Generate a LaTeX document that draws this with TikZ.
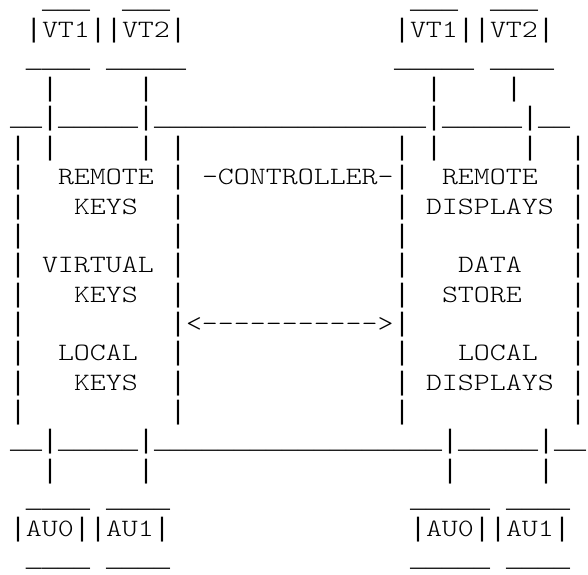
\documentclass[tikz,border=0pt]{standalone}
\usepackage{fontspec}
\setmonofont{Latin Modern Mono Light}[FakeStretch=1.22]
\newfontfamily\railfont{Liberation Mono}

\tikzset{
  cell/.style={anchor=base west, inner sep=0pt, outer sep=0pt},
  rail/.style={cell, font=\railfont\fontsize{20pt}{22pt}\selectfont},
  label/.style={cell, font=\ttfamily\fontsize{18.7pt}{22pt}\selectfont},
}

\begin{document}
\catcode`\_=12
\begin{tikzpicture}[x=12pt, y=-22pt]
  % one unit = one character cell: x is the column, y the row
  \useasboundingbox (-7.5pt,6.5pt) rectangle (433.5pt,-424pt);

  % VT terminals on top
  \foreach \col in {2,7,25,30} \node[rail] (vtcap-\col) at (\col,0) {___};
  \foreach \col in {1,5,6,10,24,28,29,33} \node[rail] (vtside-\col) at (\col,1) {|};
  \node[label] (vt1l) at (2,1) {VT1};
  \node[label] (vt2l) at (7,1) {VT2};
  \node[label] (vt1r) at (25,1) {VT1};
  \node[label] (vt2r) at (30,1) {VT2};
  \node[rail] (vtl-a) at (1,2) {____};
  \node[rail] (vtl-b) at (6,2) {_____};
  \node[rail] (vtr-a) at (24,2) {_____};
  \node[rail] (vtr-b) at (30,2) {____};
  \foreach \col in {2,8,26,31} \node[rail] (vtlink-\col) at (\col,3) {|};

  % top bus
  \node[rail] (bus-top) at (0,4) {__|_____|_________________|_____|__};
  \foreach \col in {0,2,8,10,24,26,32,35} \node[rail] (drop-\col) at (\col,5) {|};

  % walls of the three boxes
  \foreach \row in {6,...,14}
    \foreach \col in {0,10,24,35} \node[rail] (wall-\row-\col) at (\col,\row) {|};

  % keys side
  \node[label] (remkeys) at (3,6) {REMOTE};
  \node[label] (remkeys-2) at (4,7) {KEYS};
  \node[label] (virtkeys) at (2,9) {VIRTUAL};
  \node[label] (virtkeys-2) at (4,10) {KEYS};
  \node[label] (lockeys) at (3,12) {LOCAL};
  \node[label] (lockeys-2) at (4,13) {KEYS};

  % controller
  \node[label] (ctrl) at (12,6) {-CONTROLLER-};
  \node[label] (ctrl-arrow) at (11,11) {<----------->};

  % displays side
  \node[label] (remdisp) at (27,6) {REMOTE};
  \node[label] (remdisp-2) at (26,7) {DISPLAYS};
  \node[label] (store) at (28,9) {DATA};
  \node[label] (store-2) at (27,10) {STORE};
  \node[label] (locdisp) at (28,12) {LOCAL};
  \node[label] (locdisp-2) at (26,13) {DISPLAYS};

  % bottom bus
  \node[rail] (bus-bot) at (0,15) {__|_____|__________________|_____|__};
  \foreach \col in {2,8,27,33} \node[rail] (aulink-\col) at (\col,16) {|};

  % AU units below
  \foreach \row in {17,19} {
    \node[rail] (aul-a-\row) at (1,\row) {____};
    \node[rail] (aul-b-\row) at (6,\row) {____};
    \node[rail] (aur-a-\row) at (25,\row) {_____};
    \node[rail] (aur-b-\row) at (31,\row) {____};
  }
  \foreach \col in {0,4,5,9,25,29,30,34} \node[rail] (auside-\col) at (\col,18) {|};
  \node[label] (au0l) at (1,18) {AU0};
  \node[label] (au1l) at (6,18) {AU1};
  \node[label] (au0r) at (26,18) {AU0};
  \node[label] (au1r) at (31,18) {AU1};
\end{tikzpicture}
\end{document}
